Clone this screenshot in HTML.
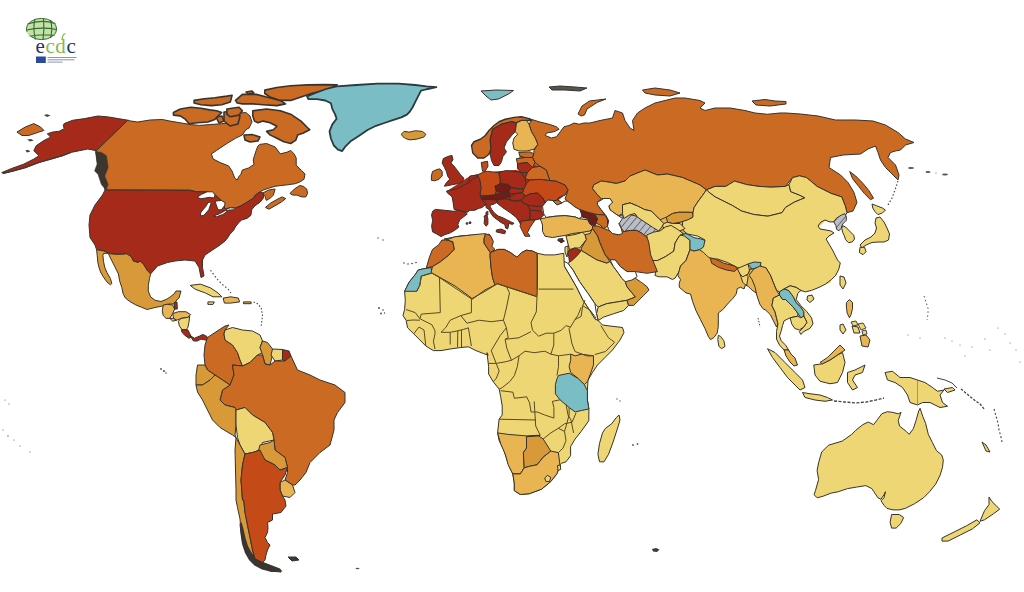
<!DOCTYPE html>
<html><head><meta charset="utf-8">
<style>
html,body{margin:0;padding:0;background:#fff;}
body{width:1024px;height:592px;overflow:hidden;position:relative;font-family:"Liberation Sans",sans-serif;}
svg{position:absolute;left:0;top:0;}
</style></head><body>
<svg width="1024" height="592" viewBox="0 0 1024 592">
<defs>
<pattern id="hatch" width="5.5" height="5.5" patternUnits="userSpaceOnUse" patternTransform="rotate(40)">
<rect width="5.5" height="5.5" fill="#bdbdc6"/><line x1="0" y1="0" x2="0" y2="5.5" stroke="#3f4555" stroke-width="1.3"/>
</pattern>
</defs>
<g stroke="#38322a" stroke-width="1" stroke-linejoin="round">
<!-- Chukotka -->
<polygon fill="#CB6A22" points="16.9,132.1 25.3,127 33.8,123.6 40.5,127 43.9,130.4 38.9,132.1 28.7,135.5 22,135.5"/>
<polygon fill="#444" stroke="none" points="43.9,115 47,114.2 50.7,115.5 47,117"/>
<polygon fill="#444" stroke="none" points="27,139.5 31,138.9 33.8,140.5 30,141.6"/>
<polygon fill="#444" stroke="none" points="25.3,150.5 28,149.8 30.4,151.5 27,152.4"/>
<!-- Alaska -->
<polygon fill="#A52A1A" points="64.2,123.6 72.6,120.3 84.5,118.6 98,116 108.1,116.9 118.2,118.6 128.4,120.3 96.3,150.7 87.8,149 79.4,150.7 70.9,152.4 62.5,155.7 50.7,159.1 38.9,162.5 25.3,167.6 13.5,170.9 3.4,173.5 1.7,172.6 11.8,168.4 23.6,164.2 33.8,159.1 38.9,155.7 33.8,150.7 36.3,145.6 43.9,140.5 50.7,137.2 47.3,133.8 52.4,132.1 59.1,131.3 64.2,128.7 63.3,125.3"/>
<polyline fill="none" stroke="#3a3a3a" stroke-width="1.2" points="3,173.3 13.5,170.9 25.3,167.6 38.9,162.5 50.7,159.1 62.5,155.7 70.9,152.4"/>
<!-- Canada mainland -->
<polygon fill="#CB6A22" points="127.5,120.5 137.5,122 150,120 162.5,119.5 170,121.1 180.3,122.8 190.7,124.6 199.3,125.4 209.7,124.6 221.7,123.7 232.1,122.8 238,118 240,113 245.9,112.5 250,116 252,122 249,128 245.9,129.7 242.4,134.9 235.5,138.3 226.9,143.5 216.6,150.4 211.4,153.9 213.1,159 220,162.5 228.6,165.9 232.1,171.1 234.7,178 237.2,180 239,176.3 240.7,174.6 242.4,170 248.8,167.9 254,164.4 253.2,160 254.5,155.6 256.2,150.4 257.9,146.1 259.7,144.4 266.6,143.5 275.2,147 280.3,153.9 287.2,152.1 290.7,150.4 294.1,153.9 296.2,158 296.2,165.3 301.5,170.5 305,174 304,179.3 299.7,182 295.3,183.7 289.2,184.6 281.3,185.5 275.1,186.3 269,188.1 263.7,189.9 260.3,191.8 256.4,194.2 252.5,198.8 246.25,202.75 240.8,205.9 235.3,208.2 230.6,207.8 225.2,209 221.25,200.4 215,194.9 207.2,191.8 196.25,191.8 190,190.25 105,190 103,180 100,170 97,160 96,151"/>
<polygon fill="#3d3630" stroke="#333" stroke-width="0.6" points="95.4,151.5 101.4,152.4 106.4,155.7 108.1,167.6 104.7,176 108.1,184.5 106,190 101.4,184.5 98,174.3 94.6,170.9 97.1,164.2 96.3,157.4"/>
<!-- Maritimes / Newfoundland -->
<polygon fill="#CB6A22" points="261.9,193.4 269,189.9 275.1,189 273.4,195.1 270.7,197.8 266.3,200.4 264.6,195.1"/>
<polygon fill="#CB6A22" points="265.5,207.4 270.7,203 276.9,199.5 282.1,196.9 285.7,198.6 281.3,202.1 275.1,205.7 269,209.2"/>
<polygon fill="#CB6A22" points="290,193.4 294.4,189 299.7,185.5 303.2,186.3 306.7,189 307.6,193.4 305.8,196.9 301.5,196.9 297.1,195.1 292.7,195.1"/>
<!-- Arctic islands -->
<g stroke-width="1.6" stroke="#37332e">
<polygon fill="#CB6A22" points="224,112 236,111 240,116 238,124 230,126 224,121"/>
<polygon fill="#CB6A22" points="216,117 222,116 224,121 219,123"/>
<polygon fill="#CB6A22" points="173.4,112.5 180.3,109 190.7,107.3 201,108.2 209.7,109.9 216.6,110.8 221.7,112.5 218.3,115.9 214.8,119.4 207.9,122 197.6,122.8 189,123.7 185.5,119.4 180.3,115.9 173.4,115.1"/>
<polygon fill="#CB6A22" points="226.9,109 239,107.3 242.4,110.8 239,115.1 230.3,116.8 226.9,114.2"/>
<polygon fill="#CB6A22" points="194.1,100.4 204.5,98.7 214.8,97.8 226.9,96.1 232.1,95.2 230.3,102.1 221.7,104.7 211.4,105.6 201,104.7 194.1,103"/>
<polygon fill="#CB6A22" points="235.5,100.4 242.4,94.4 256.2,94.4 266.6,97 280.3,100.4 285.5,103.9 276.9,105.6 263.1,104.7 252.8,103.9 242.4,103.9 237.2,103"/>
<polygon fill="#CB6A22" points="252.8,110.8 266.6,109 280.3,110.8 290.7,114.2 301,121.1 307.9,128 309.7,129.7 302.8,133.2 297.6,134.9 295.9,140.1 290.7,143.5 283.8,141.8 276.9,138.3 270,134.9 266.6,131.4 273.4,129.7 276.9,126.3 270,122.8 263.1,121.1 257.9,122.8 254.5,121.1 252.8,115.9"/>
<polygon fill="#CB6A22" points="264.8,90.1 276.9,87.5 290.7,85.8 307.9,84.9 325.2,84.6 337.2,84.9 330.3,88.3 321.7,90.9 311.4,93.5 301,97 290.7,100.4 280.3,100.4 270,97 264.8,93.5"/>
<polygon fill="#CB6A22" points="244,135 252,134.5 260,137 258,141 250,142 245,140"/>
<polygon fill="#CB6A22" points="246,92 252,91 254,93 248,94"/>
</g>
<!-- USA -->
<polygon fill="#A52A1A" points="105,190 190,190.25 196.25,191.8 207.2,191.8 215,194.9 221.25,200.4 225.2,209 230.6,207.8 235.3,208.2 240.8,205.9 246.25,202.75 252.5,198.8 256.4,194.2 260.3,191.8 263.4,193.4 263.4,198 260.3,202 254.8,205.9 251.7,209.8 250.9,215.25 247,218.4 241.6,220 238.4,223 235.3,227 233.75,230 230,234 227.5,238 225,241 220,245 212.5,250 205,255 202.5,260 202.5,267.5 204,276 201,277.5 199,267.5 195,261 185,260 175,261 167.5,262.5 157.5,266 150.6,273.9 147.2,270.4 143.7,264.7 140.3,261.2 138,262.4 133.4,261.2 131.1,256.6 126.5,253.8 121.9,254.3 115,254.3 110.4,253.8 103.5,250.9 96.6,249.7 95,245 90,237.5 89,225 90,215 95,205 102.5,195"/>
<!-- Great Lakes -->
<g fill="#fff">
<polygon points="197,197.3 201.7,194.2 207.2,191.8 212.7,191.8 215,194.9 214.2,198 209.5,197.3 205.6,198 200.9,198.8"/>
<polygon points="209.5,202 211,203.5 208.75,209.8 204,215.25 200.2,216 201,212 205.6,206.7 208,202.75"/>
<polygon points="215,201.2 221.25,200.4 225.2,202.75 224.4,205.9 221.25,209.8 218,209.8 216.6,205.9"/>
<polygon points="213.4,216 219.7,213.7 225.2,210.6 227.5,211.3 222.8,214.5 216.6,216.8"/>
<polygon points="225.2,209 230.6,207.8 235.3,208.2 233.75,209.8 227.5,210.2"/>
</g>
<!-- Hudson bay fix (white) -->
<!-- Greenland -->
<polygon stroke-width="1.8" stroke="#2a3a3e" fill="#7BBDC4" points="307,96.3 314.1,93.5 325.3,89.25 336.6,86.4 356.3,85 377.4,83.6 398.5,83.6 415.3,85 426.6,86.4 436.4,87.1 426.6,89.25 421,90.7 418.1,96.3 415.3,101.9 412.5,107.5 409.7,111.75 406.9,114.6 401.3,117.4 392.8,120.2 384.4,123 376,125.8 367.5,130 359.1,135.7 350.6,141.3 345,146.9 342.2,151.1 338,149.7 333.8,145.5 330.9,138.5 329.5,131.4 332.3,124.4 336.6,118.8 335.2,114.6 332.3,108.9 330.9,103.3 325.3,100.5 316.9,99.1 308.4,99.1"/>
<!-- Iceland -->
<polygon fill="#D89A38" points="401.3,134.25 404,131.4 409.7,132.1 415.3,130.7 422.4,131.4 425.9,134.25 423.8,137.1 416.7,139.2 409.7,139.9 405.5,138.5 402.7,136.4"/>
<!-- Svalbard -->
<polygon fill="#7BBDC4" points="481,91 496,90 513.5,90.5 508.5,94 498.5,99 491,100 486,96"/>
<!-- Mexico -->
<polygon fill="#D89A38" points="96.6,249.7 103.5,250.9 110.4,253.8 115,254.3 121.9,254.3 126.5,253.8 131.1,256.6 133.4,261.2 138,262.4 140.3,261.2 143.7,264.7 147.2,270.4 150.6,273.9 149.5,278.5 148.3,285.4 148.3,291.1 150.6,296.9 155.2,300.3 161,301.5 166.7,299.2 170.2,296.9 174,294 176,291 181,291 179,298 177.5,299 174,304 169,304 162.5,306 155,307.5 147.2,309.5 141.4,307.2 135.7,304.9 129.9,301.5 125.3,298 123,293.4 121.9,287.7 119.6,280.8 118.4,273.9 115,267 111.5,260.1 108.1,253.2 103.5,253.5 102.9,255.5 103.5,261.2 104.6,267 107,272.7 110.4,278.5 111.8,283.5 110.4,284.8 108.1,283.1 105.5,280 102.9,276.2 100.5,272 98.9,267 97.8,262 97.2,255.5"/>
<!-- Cuba -->
<polygon fill="#EFD675" points="190.2,285.4 200.3,284.1 210.5,287.9 218.1,293 221.9,296.8 213,296.8 205.4,293 195.2,289.2"/>
<polygon fill="#E8B552" points="223.1,298.1 230.8,296.8 238.4,298.1 239.6,301.9 230.8,303.1 224.4,303.1"/>
<polygon fill="#EFD675" points="207.9,301.9 214.3,301.9 213,304.4 207.9,304.4"/>
<polygon fill="#E8B552" points="243.5,301.9 251.1,301.9 251.1,303.7 243.5,303.7"/>
<!-- base fills to avoid gaps -->
<polygon fill="#CB6A22" stroke="none" points="518,160 520,154.5 533,154 536,155 536,162 546,168 540,172 520,170"/>
<polygon fill="#A52A1A" stroke="none" points="447,191 470,176 478,174 500,171 516,170 525,172 535,165 545,170 550,180 556,181 565,185 568,190 565,195 556,202 545,203 542,206 543,214 540,219 535,220 530,227 525,236 521,226 516,217 510,212 503,207 496,202 488,205 484,206 478,208 470,210 455,210 452,197"/>
<polygon fill="#E8B552" stroke="none" points="600,183 630,176 660,174 700,185 707,190 700,205 693,215 685,228 690,240 690,250 686,260 680,268 675,279 657,272 650,256 647,240 640,232 620,232 610,225 600,215 597,200"/>
<polygon fill="#EFD675" stroke="none" points="705,196 720,190 760,188 800,182 840,192 846,210 838,221 825,221 819,227 826,238 832,252 836,270 830,283 800,292 770,290 760,270 735,268 705,258 700,250 705,240 690,233 690,215"/>
<polygon fill="#EFD675" stroke="none" points="566.5,236 575,232 588,224 596,219 606,217 609,227 605,232 602,243 606,256 596,260 580,252 568,252 567,244"/>
<!-- Russia west+central -->
<polygon fill="#CB6A22" points="529,118.6 539,121.75 549,124.25 556.5,126.75 559,129.25 554,131.75 546.5,133 545.25,135.5 551.5,138 556.5,136.75 560.25,131.75 564,126.75 569,125.5 574,123 579,124.25 584,123 590,123 600,120.5 612.5,118 615,110.5 622.5,113 625,120.5 630,128 634,130.5 632.5,120.5 637.5,113 645,108 655,103 665,100.5 675,98 685,98 700,100.5 705,103 700,108 705,110.5 715,108 730,108 745,110.5 755,113 767.5,114.25 780,113 786,113 800.5,114 818,116 835.5,120 855.5,120 873,121 885.5,125 898,132.5 905.5,139 914,142.5 905.5,145 900.5,150 895.5,151 890.5,152.5 888,157.5 895.5,165 899,175 898,180 893,175 885.5,167.5 880.5,160 878,152.5 875.5,146 868,149 860.5,154 843,155 830.5,157.5 829,167.5 840.5,175 848,182.5 854,192.5 857,202.5 853,211 847,212.7 845.2,205.7 841.7,196.9 831.1,193.4 817.1,186.4 806.5,177.6 799.5,175.8 792.5,177.6 785.4,186.4 771.4,187.2 759.1,186.4 746.8,184.6 734.5,181.1 725.7,186.4 715.1,186.4 706.4,189.9 700,185 682.5,177.5 667.5,174 657.5,175 645,170 630,176 628.75,177.25 625,181 616.25,183.5 610,182.25 601.25,181 593.75,184.75 592.5,188.5 597.5,194.75 601.25,198.5 597.5,202.25 597.5,204.75 601.25,209.75 605,215 597.5,214.5 587.5,212.25 580,209.75 575,207 570,203 565,199 568,190 565,185 556.25,181.25 550,180.6 548.75,177.5 546.25,170 540,166.25 535,162.5 532.5,157.5 533.75,153.75 534,150.5 537.75,144.25 535.25,138 531.5,131.75 529,124.25 531.5,120.5"/>
<!-- Novaya Zemlya -->
<polygon fill="#CB6A22" points="578,114 582,106 589.5,101 606,99 597,102.5 587,109 584.5,115 581,116"/>
<polygon fill="#CB6A22" stroke="#333" stroke-width="1" points="642.5,90 655,88 670,90 680,93 670,96 655,95 645,93"/>
<polygon fill="#CB6A22" stroke="#333" stroke-width="1" points="752,101 765,99.5 775,101 786,101.5 786,104 770,106 756,105"/>
<g fill="#555" stroke="none"><ellipse cx="911" cy="168" rx="3" ry="0.9"/><ellipse cx="928" cy="172" rx="2.5" ry="0.9"/><ellipse cx="945" cy="174.5" rx="3" ry="0.9"/><circle cx="936" cy="173" r="0.6"/></g>
<polygon fill="#555" points="549,87 560,86 575,87 587,88 580,91 565,90 552,90"/>
<!-- Sakhalin -->
<polygon fill="#CB6A22" points="849.7,171.5 855.7,176 863,183.4 869,190.8 873.5,198.2 870.5,199.7 864.6,193.8 858.6,186.3 852.7,178.9"/>
<!-- Kazakhstan -->
<polygon fill="#E8B552" points="592.5,188.5 593.75,184.75 601.25,181 610,182.25 616.25,183.5 625,181 628.75,177.25 630,176 645,170 657.5,175 667.5,174 682.5,177.5 700,185 706.4,189.9 702.8,195.1 697.6,202.2 694.1,207.5 693,212.5 688,212.25 678.75,212.25 672.5,213.5 666.25,217.25 660,219.75 655,214.75 651.25,211 645,209.75 637.5,206 630,202.9 622.5,204.75 622.5,213.5 618.75,216 615,213.5 610,209.75 608.75,206 612.5,202.25 610,198.5 603.75,198.5 601.25,198.5 597.5,194.75"/>
<!-- Mongolia -->
<polygon fill="#EFD675" points="706.4,189.9 715.1,186.4 725.7,186.4 734.5,181.1 746.8,184.6 759.1,186.4 771.4,187.2 785.4,186.4 789,184.6 790.7,191.6 799.5,195.1 804.8,197.8 794.2,202.2 785.4,207.5 782,212.7 767.9,216.2 753.8,214.5 741.5,211 732.7,205.7 722.2,200.4 715.1,196.9 708.1,191.6"/>
<!-- China -->
<polygon fill="#EFD675" points="706.4,189.9 708.1,191.6 715.1,196.9 722.2,200.4 732.7,205.7 741.5,211 753.8,214.5 767.9,216.2 782,212.7 785.4,207.5 794.2,202.2 804.8,197.8 799.5,195.1 790.7,191.6 789,184.6 792.5,177.6 799.5,175.8 806.5,177.6 817.1,186.4 831.1,193.4 841.7,196.9 845.2,205.7 847,212.7 845,216 838,220 834,221.8 830,222 825,220 821,222 818,226 820,229 826,230 831,231 834,233 829,236 826,239 829,244 832.5,250 837.5,260 840.3,263 838.8,269.1 835.8,275.2 831.2,279.8 825.1,284.3 819,287.4 811.5,290.4 805.4,291.9 800.8,290.4 796.2,287.4 790.2,285.8 784.1,288.9 779.5,291.9 776.5,290.4 773.4,282.8 770.4,275.2 765.8,267.6 755,267.5 747.5,270 737.5,267.5 727.5,262.5 717.5,259 710,259 700,255 695,250 702.5,247.5 705,240 697.5,236 687.5,234 682.5,230 682.5,221 692.5,217.5 693,212.5 694.1,207.5 697.6,202.2 702.8,195.1"/>
<!-- Korea -->
<polygon fill="url(#hatch)" points="833.7,221.8 836.6,218.1 841.1,215.2 844.8,213.7 846.3,216.6 846.3,220.4 842.6,224.1 841.1,228.5 838.9,230.8 836.6,229.3 835.9,225.6"/>
<polygon fill="#EFD675" points="842.6,225.6 845.6,227 849.3,230.8 853.7,235.2 854.5,239 852.3,241.9 848.5,242.7 845.6,239.7 844.1,235.2 842.6,232.3 841.8,228.5"/>
<!-- Japan -->
<polygon fill="#EFD675" points="872,204 876.5,205.7 882.4,208 885.4,210 882.4,213 878,214.6 875,211.6 872.75,208"/>
<polygon fill="#EFD675" points="876,218 880,217 884,222 887,228 889.5,234 888.5,240 884,242 878,242 872,242.5 866,245 862,248 860,245 865,240 871,237 875,233 876.5,228 875,223"/>
<polygon fill="#EFD675" points="860,247.3 864.6,247.3 866,251.7 863,254.7 859.4,252.5"/>
<polyline fill="none" stroke="#444" stroke-width="1.2" stroke-dasharray="1.5,2" points="898,181 895,190 892,198 888,205"/>
<polygon fill="#EFD675" points="840,276 844,277 846,283 843,289 840,285"/>
<polygon fill="#EFD675" points="807.5,296 812,295 814,299 810,302.5 807,300"/>
<!-- Scandinavia -->
<polygon fill="#CB6A22" stroke-width="1.4" points="471.5,145.5 474,141.75 480.25,139.25 485.25,135.5 489,130.5 494,125.5 499,121.75 505.25,119.25 514,117.4 521.5,116.75 529,118.6 531.5,120.5 527.75,120.5 521.5,120.5 516.5,123 511.5,121.75 501.5,124.25 492.75,129.25 490.25,139.25 490.9,149.25 489,154.25 484,158 477.75,158 472.75,153"/>
<polygon fill="#A52A1A" points="490.25,139.25 492.75,129.25 501.5,124.25 511.5,121.75 516.5,123 515.25,131.75 512.75,134.25 506.5,141.75 504,148 506.5,151.75 502.75,156.75 501.5,161.75 499,165.5 494,165.5 491.5,160.5 490.25,154.25 490.9,149.25"/>
<polygon fill="#E8B552" points="516.5,123 521.5,120.5 526.5,120.5 529,124.25 531.5,131.75 535.25,138 537.75,144.25 534,149.25 526.5,151 519,151 514,149.25 512.75,143 514,138 517.75,134.25 515.25,131.75"/>
<!-- Baltic/ Eastern Europe -->
<polygon fill="#CB6A22" points="518.75,152.5 530,151.9 533.75,153.75 532.5,157.5 525,157.5 520,156.25"/>
<polygon fill="#CB6A22" points="516.25,158.75 525,157.5 532.5,157.5 535,162.5 532.5,167.5 527.5,162.5 517.5,163.75"/>
<polygon fill="#A52A1A" points="517.5,163.75 527.5,162.5 532.5,167.5 527.5,172.5 521.25,172.5 517.5,168.75"/>
<polygon fill="#CB6A22" points="525,178.75 527.5,172.5 532.5,167.5 540,166.25 546.25,170 548.75,177.5 550,180.6 540,179.4 530,180"/>
<polygon fill="#C44A17" points="526.25,183.75 530,180 540,179.4 550,180.6 556.25,181.25 565,185 568,190 565,195 558.75,197.5 555,202.5 550,200 545,202.5 542.5,197.5 537.5,193.1 530,193.75 525,196.25 522.5,192.5 523.75,188.75"/>
<polygon fill="#CB6A22" points="553,201 558,200 562,203 557,205"/>
<polygon fill="#A52A1A" points="498.75,172.5 506.25,170.6 513.75,171.25 521.25,172.5 525,178.75 526.25,183.75 523.75,188.75 517.5,188.75 511.25,187.5 507.5,184.4 500,183.75 500,178.75"/>
<polygon fill="#C44A17" points="477.5,175 482.5,172.5 487.5,171.25 492.5,171.9 498.75,172.5 500,178.75 500,183.75 495,186.25 496.25,191.25 495,195 487.5,195.6 481.25,195.6 478.75,191.25 478.75,182.5"/>
<polygon fill="#C44A17" points="481.25,162.5 487.5,161.25 488,166.25 485,171.25 482.5,171.25"/>
<polygon fill="#A52A1A" points="470,176 477.5,175 478.75,182.5 478.75,186 472,184 468.75,180"/>
<polygon fill="#751A14" points="495,186.25 500,183.75 507.5,184.4 511.25,187.5 508.75,191.25 502.5,192.5 496.25,191.25"/>
<polygon fill="#751A14" points="487.5,195.6 495,195 502.5,192.5 508.75,192.5 510,196.25 505,198.75 497.5,200 490,199.4"/>
<polygon fill="#751A14" points="478.75,197.5 487.5,196.25 488.75,200 482.5,201.25 478.75,200"/>
<polygon fill="#A52A1A" points="508.75,191.25 511.25,187.5 517.5,188.75 523.75,188.75 522.5,192.5 515,193.75 510,193.75"/>
<polygon fill="#A52A1A" points="510,196.25 515,193.75 522.5,192.5 525,196.25 521.25,200 515,201.25 510,200"/>
<polygon fill="#A52A1A" points="525,196.25 530,193.75 537.5,193.1 542.5,197.5 545,202.5 542.5,206.25 535,206.25 527.5,205 522.5,202.5 521.25,200"/>
<polygon fill="#fff" points="542.5,206.25 547.5,200 553,200.5 555,201.25 560,203.75 565,201 567.5,201.25 570,203 575,207 580,209.75 582.5,213.75 581.25,217.5 578.75,218.5 575,216.9 565,215.6 555,216.25 546.25,217.5 543.75,213.75"/>
<polygon fill="#CB6A22" points="553,201 558,200 562,203 557,205"/>
<!-- Balkans -->
<polygon fill="#A52A1A" points="497.5,200 505,198.75 510,200 515,201.25 521.25,200 522.5,202.5 527.5,205 530,210 530,220 521.25,221.25 520,222.5 516.25,217.5 510,212.5 502.5,207.5 496.25,202.5"/>
<polygon fill="#A52A1A" points="530,210 541.25,211.25 543.75,215 540,218.75 535,220 530,220"/>
<polygon fill="#C44A17" points="521.25,221.25 530,220 535,220 532.5,223.75 530,227.5 527.5,232.5 530,236.25 525,236.25 522.5,231.25 520,226.25"/>
<!-- UK/Ireland -->
<polygon fill="#A52A1A" points="443.3,158.6 447.6,156.5 452,155.4 453,159.7 450.9,163 454.1,166.2 457.4,170.5 460.6,174.9 463.8,178.1 462.8,181.4 458.4,183.5 453,184.6 447.6,185.7 444.4,186.2 446.5,182.4 449.8,179.2 447.6,176 446.5,171.6 444.4,167.3 442.2,163"/>
<polygon fill="#CB6A22" points="432.5,171.6 436.8,169.5 440,168.9 442.2,171.6 442.2,176 439,179.2 434.6,180.8 431.4,180.3 431.4,176"/>
<!-- France, Iberia, Italy -->
<polygon fill="#A52A1A" points="446.5,191.1 450.9,190 456.3,188.9 460.6,186.8 464.9,184.6 469.2,182.4 472.5,179.2 477.9,176 480,180.3 481.1,187.8 480,195.4 482,200 484,202 486,203.75 484.1,205.6 482.25,207.5 478.5,208.4 474.75,210.3 470,210.3 467.25,212.2 465.4,212.2 458.8,210.3 454.1,209.4 453,201.9 452,196.5 447.6,193.2"/>
<polygon fill="#A52A1A" points="432.6,211.25 435.4,209.4 444.75,210.3 454.1,211.25 458.8,210.3 465.4,212.2 467.25,214 463.5,216.9 459.75,219.7 457.9,224.4 458.8,227.2 455.1,230 450.4,232.8 444.75,234.7 441,236.6 436.3,233.75 432.6,231.9 431.6,226.25 432.6,220.6 431.6,215"/>
<polygon fill="#A52A1A" points="482,200 488,199.5 496,200 497.5,202 494,204 491,205 489.75,205.6 491.6,209.4 494.4,213.1 498.2,216 502.9,217.8 506.6,219.7 510.4,221.6 514.1,223.4 512.25,224.4 508.5,223.4 508.5,226.25 507.6,229 505.7,228.1 504.75,224.4 501,222.5 497.25,219.7 493.5,216.9 490.7,213.1 488.8,209.4 486,207.5 486,203.75 484,202"/>
<polygon fill="#A52A1A" points="496.3,230 501,229 505.7,231 504.75,233.75 500,232.8 496.3,231.9"/>
<polygon fill="#A52A1A" points="484.1,216 486.9,215 487.9,218.75 487.9,224.4 486,226.25 484.1,223.4 484.6,218.75"/>
<polygon fill="#A52A1A" points="486,212.2 487.9,211.25 487.9,215 486,215"/>
<g fill="#444"><circle cx="467" cy="223.5" r="0.9"/><circle cx="470" cy="222.7" r="1"/></g>
<!-- Turkey, Caucasus -->
<polygon fill="#E8B552" points="540,218.75 545,218 546.25,217.5 555,216.25 565,215.6 575,216.9 578.75,218.5 587.5,219.75 590,224 592.5,226 592.5,228.5 590,231 582.5,232.25 572.5,233.5 565,235.5 560,236.25 552.5,237.5 545,236.25 542.5,231.25 542.5,225 541.25,221.25"/>
<polygon fill="#751A14" points="580,209.75 587.5,212.25 595,214.75 597.5,218.5 592.5,219.75 587.5,218.5 582.5,217.25"/>
<polygon fill="#CB6A22" points="597.5,218.5 595,214.75 597.5,214.5 605,215 607.5,220 607.5,226 603.75,228.5 600,225 596,223"/>
<polygon fill="#751A14" points="587.5,218.5 592.5,219.75 597.5,218.5 596,223 595,226 590,224"/>
<polygon fill="#8a8a8a" points="558,239 563,238.5 562,241 558,241"/>
<!-- Central Asia -->
<polygon fill="url(#hatch)" points="616.3,215.6 623,215 629.2,214.3 636.8,216.3 643.9,220.1 651.6,224.6 659.3,230.4 656.7,236.1 652.9,239.3 646.5,236.8 641.3,232.9 636.8,230.4 630.4,230.4 624,231.6 621.5,228.4 619.5,224 617.6,220.1"/>
<polygon fill="#EFD675" points="622.5,204.75 630,202.9 637.5,206 645,209.75 651.25,211 655,214.75 660,219.75 663.75,223.5 662.5,226 658.75,231 652.5,227.25 645,222.25 637.5,217.25 635,213.5 630,214.75 623.75,218.5 622.5,213.5"/>
<polygon fill="#D89A38" points="666.25,217.25 672.5,213.5 678.75,212.25 688,212.25 692.5,212.5 693,217 688,219.75 680,222.25 672.5,223.5 667.5,222.25"/>
<polygon fill="#EFD675" points="663.75,223.5 667.5,222.25 672.5,223.5 680,223.5 685,228.5 680,231 672.5,231 666.25,232.25 662.5,226"/>
<polygon fill="#EFD675" points="646.8,234.9 653.5,232.2 660.3,230.8 665.7,226.8 671.1,225.4 677.8,229.5 683.2,233.5 679.2,236.2 675.1,243 673.8,251.1 665.7,256.5 657.6,260.5 652.2,260.5 648.1,249.7"/>
<polygon fill="#EFD675" points="652.2,260.5 657.6,260.5 665.7,256.5 673.8,251.1 675.1,243 679.2,236.2 683.2,233.5 686,236.2 690,240.3 690,249.7 686,260.5 680.5,266 679.2,271.4 675.1,278.1 672.4,279.5 667,276.8 658.9,276.8 654.9,275.4 656.2,270 650.8,260.5"/>
<polygon fill="#7BBDC4" points="680.5,234.9 686,233.5 694,237.6 700.8,238.9 704.9,240.3 703.5,247 699.5,249.7 694,251.1 690,249.7 690,240.3 684.6,236.2"/>
<!-- Iran -->
<polygon fill="#CB6A22" points="592.5,228.5 592.5,226 597.5,226 603.75,228.5 610,231 617.5,234.75 621.5,232 624,231.6 630.4,230.4 636.8,230.4 641.3,232.9 646.5,236.8 648,240 648.9,242.9 650.6,254.7 654,263.2 657.4,271.6 647.2,273.3 635.4,271.6 627,271.6 620.2,266.5 615.1,259.8 610,259.8 605,254.7 599.9,242.9 597.5,236"/>
<!-- Caspian -->
<polygon fill="#fff" points="597.5,202.25 603.75,198.5 610,198.5 612.5,202.25 608.75,206 610,209.75 615,213.5 618.75,216 622.5,218.5 620,222.25 618.75,223.5 621.25,228.5 622.5,233.5 618.75,234.75 612.5,233.5 608.75,229.75 607.5,226 608.75,221 606.25,216 601.25,209.75 597.5,204.75"/>
<!-- Syria, Iraq, Jordan, Levant -->
<polygon fill="#EFD675" points="566,236 575,234.5 582.5,232.25 585,234.75 586.4,239.5 579.6,248 574.6,248 569.5,249.6 567.8,243"/>
<polygon fill="#D89A38" points="581.3,248 586.4,239.5 585,234.75 590,233.5 592.5,228.5 597.5,236 599.9,242.9 605,254.7 610,261.5 606.7,263.2 596.5,259.8 581.3,250.5"/>
<polygon fill="#A52A1A" points="567.8,251.3 574.6,248 581.3,250.5 578,254.7 572.9,259.8 569.5,262.3 568.7,256.4"/>
<polygon fill="#EFD675" points="565,247 568,246 568,251 567,257 565,252"/>
<polygon fill="#751A14" points="558.5,240 562,239.5 564.4,241 561,243"/>
<!-- Arabia -->
<polygon fill="#EFD675" points="569.5,262.3 572.9,259.8 578,254.7 581.3,250.5 596.5,259.8 606.7,263.2 610,261.5 613.4,266.5 618.5,273.3 621.9,278.4 625.3,281.7 627,286.8 635.4,297 627,300.3 616.8,302 606.7,303.7 598.2,307 594.9,303.7 588.1,293.6 579.6,281.7 572.9,269.9 567.8,263.2"/>
<polygon fill="#EFD675" points="598.2,307 606.7,303.7 616.8,302 627,300.3 628.6,305.4 623.6,310.5 613.4,313.8 603.3,317.2 598.2,320.6 596.5,313.8"/>
<polygon fill="#D89A38" points="625.3,281.7 630,279 635.4,278.4 640.5,281.7 647.2,286.8 648.9,290.2 643.8,295.3 638.8,300.3 633.7,305.4 628.6,305.4 627,300.3 635.4,297 627,286.8"/>
<!-- Red sea, Persian gulf -->
<polygon fill="#fff" points="561,259.8 567.8,263.2 572.9,269.9 579.6,281.7 588.1,293.6 594.9,303.7 596.5,313.8 598.2,320.6 594.9,318.9 589.8,310.5 583,300.3 576.3,286.8 569.5,275 564.4,266.5"/>
<polygon fill="#fff" points="610,259.8 615.1,259.8 620.2,266.5 627,271.6 635.4,271.6 637.1,276.7 632,280 625.3,281.7 621.9,278.4 618.5,273.3 613.4,266.5"/>
<polyline fill="none" stroke="#444" stroke-width="1" stroke-dasharray="1.5,1.5" points="758,318 759,322 760,327"/>
<!-- India region -->
<polygon fill="#E8B552" points="690,249.7 694,251.1 699.5,249.7 703.5,252.4 707.6,256.5 711.6,259.2 715.7,263.2 723.8,267.3 734.6,270 738.6,268.6 740,274 742.7,276.8 748.1,274 749.5,270 754.9,267.3 761.6,266 764.3,271.4 761.6,276.8 758.9,287.6 756.2,293 752.2,290.3 748.1,286.2 745.4,284.9 744.1,288.9 740.6,287.3 737.3,288.5 736.2,294 732.8,298.5 728.4,303 722.8,309.6 718.3,313 718.3,326.3 717.2,333 713.9,337.5 710.5,339.7 708.3,336.4 705,328.6 700.5,319.7 696,310.7 692.7,301.8 690.5,294 686,292.9 679.3,287.3 679.2,283.5 680.5,279.5 677.8,275.4 680.5,266 686,260.5"/>
<polygon fill="#CB6A22" points="710.3,257.8 715.7,259.2 723.8,263.2 734.6,266 737.3,268.6 734.6,271.4 726.5,270 718.4,267.3 711.6,263.2"/>
<polygon fill="#EFD675" points="740,274 745.4,274 748.1,276.8 746.8,284.9 745.4,284.9 742.7,282.2 741.4,278.1"/>
<polygon fill="#7BBDC4" points="748,264 754,262 761,262.5 760,267 752,269"/>
<polygon fill="#EFD675" points="737.3,268.6 748,264 749.5,270 748.1,274 742.7,276.8 740,274"/>
<polygon fill="#EFD675" points="718.3,335.3 720.6,336.4 723.9,340.8 725,346.4 721.7,348.6 718.9,346.4 717.8,339.7"/>
<!-- SE Asia -->
<polygon fill="#E8B552" points="753.7,269.1 759.8,266.1 765.8,267.6 770.4,275.2 773.4,282.8 776.5,290.4 779.5,295 773.4,298 771.9,305.6 775,311.7 776.5,317.8 778,323.9 776.5,326.9 773.4,320.8 770.4,314.7 765.8,310.2 762.8,308.6 759.8,304.1 756.7,295 755.2,287.4 752.2,279.8 749.1,275.2"/>
<polygon fill="#EFD675" points="773.4,298 779.5,295 782.6,299.5 785.6,299.5 788.6,302.6 793.2,307.1 797.8,313.2 797.8,316.2 790.2,317.8 787.1,319.3 784.1,320.8 782.6,325.4 781,331.5 779.5,336 781,340.6 785.6,345.1 788.6,350 784.1,350 779.5,345.1 776.5,339 776.5,331.5 778,323.9 776.5,317.8 775,311.7 771.9,305.6"/>
<polygon fill="#7BBDC4" points="779.5,291.9 784.1,288.9 788.6,290.4 793.2,296.5 796.2,302.6 800.8,307.1 803.9,311.7 803.9,316.2 800.8,317.8 797.8,313.2 793.2,307.1 788.6,302.6 785.6,299.5 782.6,299.5 779.5,295"/>
<polygon fill="#EFD675" points="784.1,288.9 790.2,285.8 796.2,287.4 800.8,290.4 797.8,293.4 796.2,299.5 800.8,305.6 806.9,311.7 811.5,317.8 813,323.9 809.9,328.4 803.9,331.5 800.8,334.5 799.3,331.5 803.9,326.9 806.9,322.3 803.9,316.2 803.9,311.7 800.8,307.1 796.2,302.6 793.2,296.5 788.6,290.4"/>
<polygon fill="#EFD675" points="790.2,317.8 797.8,316.2 800.8,317.8 803.9,316.2 806.9,322.3 803.9,326.9 799.3,330 794.7,328.4 791.7,323.9"/>
<polygon fill="#E8B552" points="784.1,350 788.6,350 791,354 795,358 797.5,365 794,366 790,362 786,356"/>
<polygon fill="#EFD675" points="767.5,348.75 775,352.5 785,362.5 795,372.5 802.5,380 805,387.5 800,390 795,385 787.5,377.5 780,367.5 772.5,357.5"/>
<polygon fill="#EFD675" points="813.75,365 822.5,363.75 830,360 837.5,355 842.5,352.5 845,362.5 842.5,372.5 837.5,382.5 830,383.75 820,381.25 815,375"/>
<polygon fill="#E8B552" points="820,362.5 827.5,357.5 835,350 840,345 845,350 837.5,355 830,360 822.5,363.75"/>
<polygon fill="#E8B552" points="846.4,302.6 849.5,299.5 852.5,302.6 852.5,308.6 851,314.7 849.5,317.8 847.2,313.2 846.4,307.1"/>
<polygon fill="#E8B552" points="860,336 866,335 870,340 868,347 862,346"/>
<polygon fill="#EFD675" points="852,326 858,327 860,333 854,333"/>
<g fill="#EFD675" stroke="#333" stroke-width="0.9"><polygon points="851,322 856,321 858,325 853,326"/><polygon points="858,324 863,323 866,328 861,330"/><polygon points="862,331 866,330 867,334 863,335"/></g>
<polygon fill="#EFD675" points="840,325 843,324 846,330 843,334 840,330"/>
<polygon fill="#EFD675" points="847.5,372.5 855,370 865,365 862.5,372.5 855,375 852.5,380 857.5,387.5 852.5,390 847.5,382.5"/>
<polygon fill="#EFD675" points="802.5,392.5 810,393.75 820,395 827.5,397.5 832.5,400 825,401.25 815,400 805,397.5"/>
<polyline fill="none" stroke="#444" stroke-width="1.3" stroke-dasharray="3,1.5" points="834,401 845,402 856,403 866,402 876,400 884,398"/>
<!-- New Guinea -->
<polygon fill="#EFD675" points="885,372.5 892.5,371.25 900,377.5 910,377.5 917.5,380 925,382.5 932.5,387.5 937.5,391.25 944,390 940,395 942.5,402.5 947.5,406.25 940,407.5 930,402.5 922.5,402.5 917.5,405 910,402.5 907.5,395 902.5,387.5 895,382.5 887.5,380"/>
<line x1="917.5" y1="380" x2="917.5" y2="404" stroke="#555" stroke-width="0.5"/>
<polygon fill="#EFD675" points="944,389 952.5,387.5 955,390 947.5,392.5"/>
<polyline fill="none" stroke="#444" stroke-width="1.3" stroke-dasharray="2.5,1.5" points="961,389 967,394 973,399 980,404 985,410"/>
<polyline fill="none" stroke="#555" stroke-width="1" stroke-dasharray="1.5,2.5" points="924,296 926,302 928,308 928,314 927,320"/>
<polyline fill="none" stroke="#444" stroke-width="1.1" stroke-dasharray="2,2" points="994,409 996,416 998,423 999,430 1001,437 1002,442"/>
<polyline fill="none" stroke="#444" stroke-width="1" points="937,378 945,380 952,383 957,388"/>
<g fill="#666" stroke="none"><circle cx="908" cy="335" r="0.6"/><circle cx="920" cy="338" r="0.6"/><circle cx="945" cy="338" r="0.6"/><circle cx="952" cy="341" r="0.6"/><circle cx="960" cy="345" r="0.6"/><circle cx="972" cy="347" r="0.6"/><circle cx="985" cy="339" r="0.6"/><circle cx="998" cy="328" r="0.6"/><circle cx="1005" cy="334" r="0.6"/><circle cx="1010" cy="343" r="0.6"/><circle cx="1016" cy="350" r="0.6"/><circle cx="1020" cy="362" r="0.6"/><circle cx="990" cy="350" r="0.6"/><circle cx="965" cy="356" r="0.6"/></g>
<!-- Australia -->
<polygon fill="#EFD675" points="814.1,494.7 815.6,490.2 818.6,479.5 817.1,470.4 818.6,462.8 821.7,452 828.5,445.2 842.2,441.1 851.8,434.3 855.9,430.2 862.7,424.7 868.2,422 873.6,424.7 877.7,419.2 881.8,413.8 887.3,411.7 892.8,412.4 898.2,413.8 901,412.4 898.2,420.6 899.6,426.1 906.4,431.5 909.2,434.3 913.3,428.8 916,420.6 918.7,411 920.1,408.3 922.8,416.5 925.6,423.3 928.3,434.3 932.4,442.5 936.5,450.7 941.7,455 943.3,459.8 942.5,467.4 940.2,475 935.7,484.1 929.6,491.7 923.5,497.8 914.4,503.8 905.3,508.4 899.2,509.9 893.1,509.9 887,508.4 884,505.3 881,500.8 884,497.8 885.5,491.7 884,494.7 881,499.3 877.9,497.8 874.9,493.2 871.8,488.6 865.8,485.6 856.6,487.1 847.5,488.6 838.4,491.7 830.8,493.2 823.2,496.2 817.1,497.8"/>
<polygon fill="#EFD675" points="891.6,514.5 899.2,514.5 903.7,517.5 900.7,523.6 896.1,528.1 891.6,528.1 890.1,522.1"/>
<polygon fill="#EFD675" points="989,497 992,501.6 999.7,509.2 993.6,513.7 984.5,519.8 980,521.3 984.5,510.7 989,504.6"/>
<polygon fill="#EFD675" points="942,538 954.1,532 966.3,525.9 976.9,519.8 980,522.9 972.4,528.9 960.2,535 948,541.1 942,541.1"/>
<polygon fill="#EFD675" points="982,442 986,445 990,452 986,451"/>
<!-- Africa base -->
<polygon fill="#EFD675" points="404.6,291.3 409.1,282.2 415.2,274.6 418.2,270 422.5,269 431,267.5 435,260 442.5,255 452.5,251 454,247.5 452.5,240 444,239 460,236 475,235 483.75,236 489,234 492.5,240 491,247.5 490.3,252.6 498.1,249.4 504.4,249.4 510.6,252.6 516.9,257.25 521.6,252.6 526.25,250.2 532.5,251 537.2,253.3 545,254.9 554.4,254.9 563.75,253.3 564.4,266.5 569.5,275 576.3,286.8 583,300.3 589.8,310.5 594.9,318.9 598.2,320.6 602.5,325 610,326 622.5,327.5 624,332.5 620,340 612.5,350 605,357.5 597.5,365 592.5,372.5 588,380 587.4,390.7 587.4,399.8 588.9,409 588.8,420.7 581.2,431.4 575.1,439 570.6,446.6 570.6,455.7 566,461.8 561.5,463.3 559.9,464.8 556.9,473.9 550.8,481.5 541.7,489.1 529.5,493.7 520.4,494.5 514.3,490.7 514.3,483 512.8,473.9 509.8,467.8 506.7,458.7 503.7,449.6 499.1,440.5 497.6,432.9 499.1,419.2 502.2,415 502.2,405.9 500.7,396.8 499.2,389.2 493.1,381.6 488.6,374 488.6,366.4 487,352.7 488.2,355.1 483.6,353.6 476,350.6 468.4,346.8 460.8,347.5 450.2,349 441,350.6 433.4,350.6 425.8,346 419.8,339.9 413.7,333.8 407.6,327.8 406.1,320.2 403,315.6 404.6,309.5 405.3,300.4"/>
<!-- Morocco, W.Sahara -->
<polygon fill="#CB6A22" points="426.25,268.2 429.4,257.25 432.5,249.4 438.75,244.75 441.9,240 446.6,240 452.8,241.6 454.4,249.4 448.1,255.7 440.3,261.9 432.5,266.6"/>
<polygon fill="#7BBDC4" points="431,267.5 431.9,273 421.3,276.1 419.8,285.2 416.7,291.3 404.6,291.3 409.1,282.2 415.2,274.6 418.2,270 422.5,269"/>
<!-- Algeria -->
<polygon fill="#E8B552" points="446.6,240 454.4,236.9 466.9,235.4 482.5,233.8 485.6,233.8 484.1,238.5 484.1,243.2 487.2,247.9 490.3,252.6 490,255 491,267.5 492.5,277.5 495,285 485,290 472.5,299 467.5,295 455,286 440,277.5 431,272.5 432.5,266.6 440.3,261.9 448.1,255.7 454.4,249.4 452.8,241.6"/>
<polygon fill="#CB6A22" points="485.6,233.8 490.3,235.4 493.4,241.6 491.9,246.3 495,249.4 490.3,252.6 487.2,247.9 484.1,243.2 484.1,238.5"/>
<!-- Libya -->
<polygon fill="#CB6A22" points="490.3,252.6 498.1,249.4 504.4,249.4 510.6,252.6 516.9,257.25 521.6,252.6 526.25,250.2 532.5,251 537.2,253.3 537.5,262.5 537.5,282.5 537,296.7 506.4,286.7 497.3,283.7 495,285 492.5,277.5 491,267.5 490,255"/>
<!-- Kenya, Tanzania -->
<polygon fill="#E8B552" points="570.7,354.2 575.2,355.8 581.3,354.2 593.5,355.8 593.5,364.9 590.4,374 587.4,381.6 584.3,384.6 578.3,378.6 570.7,372.5 569.1,366.4 570.7,360.3"/>
<polygon fill="#7BBDC4" points="558.5,375.5 569.1,373.2 578.3,378.6 584.3,384.6 587.4,390.7 587.4,399.8 588.9,409 581.3,410.5 575.2,412 569.1,407.5 560,399.8 555.4,393.8 555.4,384.6 557,378.6"/>
<!-- Southern Africa -->
<polygon fill="#E8B552" points="497.6,432.9 508.2,434.4 526.5,435.9 540.2,435.2 538.6,435.9 526.5,436.7 526.5,448.1 523.4,452.6 524.2,467.8 520.4,473.9 512.8,473.9 508.2,464.8 505.2,454.2 500.6,443.5"/>
<polygon fill="#D89A38" points="526.5,436.7 538.6,435.9 543.2,439 550.8,451.1 543.2,457.2 537.1,464.8 529.5,466.3 524.2,467.8 523.4,452.6 526.5,448.1"/>
<polygon fill="#E8B552" points="512.8,473.9 520.4,473.9 524.2,467.8 529.5,466.3 537.1,464.8 543.2,457.2 550.8,451.1 558.4,452.6 559.9,464.8 556.9,473.9 550.8,481.5 541.7,489.1 529.5,493.7 520.4,494.5 514.3,490.7 514.3,483"/>
<polygon fill="#EFD675" points="544.7,478 547.5,475.4 550.8,477.5 549.5,481.5 546,481.5"/>
<polygon fill="#EFD675" points="557.5,465.5 560.3,465 560.7,469.5 558,470.5"/>
<!-- Madagascar -->
<polygon fill="#EFD675" points="597.9,454.2 599.5,443.5 602.5,432.9 605.5,428.3 611.6,423.8 616.2,417.7 619,415 620,420 618,426.8 613.1,442 608.6,454.2 604,461.8 599.5,461.8"/>
<polygon fill="#3a3a3a" stroke="none" points="652,549 656,548 659.5,549.5 657,552 653,551.5"/>
<g fill="#555" stroke="none"><circle cx="633" cy="445" r="0.9"/><circle cx="637.5" cy="444" r="0.9"/><circle cx="617" cy="399" r="0.7"/><circle cx="620" cy="401" r="0.7"/></g>
<!-- Africa internal borders -->
<g fill="none" stroke="#564a24" stroke-width="1">
<polyline points="416.7,291.3 419.8,285.2 421.3,276.1 431.9,273 439.5,277.6 440.3,312.6 421.3,314.1 419.8,318.6"/>
<polyline points="439.5,277.6 471.4,298.9 485.1,291.3 497.3,283.7 506.4,286.7 537,296.7"/>
<polyline points="471.4,298.9 471.4,312.6 460.8,315.6 450.2,320.2 445.6,327.8 441,332.3"/>
<polyline points="460.8,315.6 466.9,323.2 473,321.7 479,320.2 491.2,321.7 503.4,320.2"/>
<polyline points="506.4,286.7 509.5,292.8 506.4,308 503.4,320.2 506.4,327.8 500.3,335.4 495.8,343 491.2,350.6"/>
<polyline points="468.4,327.8 469.9,336.9 471.4,346"/>
<polyline points="441,332.3 450.2,332.3 457.8,330.8 463.8,329.3 468.4,327.8"/>
<polyline points="450.2,332.3 450.2,344.5"/>
<polyline points="457.8,330.8 457.5,347"/>
<polyline points="461.5,330 461.5,347"/>
<polyline points="419.8,318.6 422.8,320.2 431.9,324.7 435,330.8 435,333.8 433.4,341.4 435,349"/>
<polyline points="406.1,309.5 415.2,312.6 419.8,318.6"/>
<polyline points="407,320.5 413,320 419.8,320.2"/>
<polyline points="413.7,333.8 419,327 424,330 425.8,346"/>
<polyline points="538.6,289.1 573.5,289.1"/>
<polyline points="537,254 537,289.1"/>
<polyline points="537,296.7 536.3,311.9 531,322.6 532.5,330.2 538.6,336.2"/>
<polyline points="506.4,327.8 508.2,337.8 505.1,339.3 518.8,337.8 531,331.7"/>
<polyline points="538.6,336.2 546.2,333.2 553.8,333.2 561.4,330.2 565.9,325.6 570.5,327.1 575,319.5 578.1,315 581.1,307.4"/>
<polyline points="575,319.5 581.1,316.5 582.7,305.8 585,300"/>
<polyline points="582.7,305.8 590,310 596,318"/>
<polyline points="600.9,325.6 608.5,337.8 614.6,342.3 605.5,351.5 594.8,354.5"/>
<polyline points="593.5,355.8 587.2,356 575,351.5 572,343.8 569,328.6 570.5,327.1"/>
<polyline points="491.2,350.6 496.2,363.4"/>
<polyline points="488.6,363.4 496.2,363.4 505.3,361.8 511.4,360.3 519,355.8"/>
<polyline points="505.1,339.3 506.8,348.2 511.4,360.3"/>
<polyline points="519,355.8 525,351.2 534.2,352.7 544.8,351.2 550.9,354.2 558.5,355.8 570.7,354.2"/>
<polyline points="553.8,333.2 553.8,345 550.9,354.2"/>
<polyline points="519,355.8 517.4,366.4 514.4,375.5 509.8,381.6 502.2,387.7 499.2,389.2"/>
<polyline points="496.2,363.4 499.2,371 496.2,378.6 493.1,381.6"/>
<polyline points="500.7,390.7 512.9,392.2 514.4,398.3 526.6,396.8 529.6,402.9 531.1,412 537.2,412 544.8,415 553.9,418.1 553.9,407.5 552.4,401.4 560,399.8"/>
<polyline points="558.5,355.8 558.5,366.4 557,375.5"/>
<polyline points="569.1,407.5 569.1,415 566.1,426 564.5,431.4"/>
<polyline points="534.2,401.4 535.7,426 540.2,435.2"/>
<polyline points="499.1,419.2 536,420"/>
<polyline points="543.2,439 550.8,432.9 558.4,428.3 564.5,431.4 566,440.5 563,448.1 558.4,452.6"/>
<polyline points="558.4,428.3 564.5,423.8 572.1,422.2 576,413"/>
<polyline points="566,404 568,415 571,420 573.6,432.9"/>
</g>
<!-- Central America -->
<polygon fill="#A52A1A" points="174.3,302.3 177,302 177.3,309 174.6,309.2"/>
<polygon fill="#E8B552" points="163.2,305.1 167,304.2 172.7,305.1 174.6,309 172.7,313.6 169.8,318.4 166.1,318.4 163.2,315.5 162.3,310.8"/>
<polygon fill="#E8B552" points="172.7,313.6 178.4,311.7 185.9,311.7 190.6,314.6 187.8,317.4 181.2,318.4 176.5,320.2 173.6,318.4"/>
<polygon fill="#E8B552" points="169.8,318.4 173.6,318.4 176.5,320.2 172.7,321.2"/>
<polygon fill="#EFD675" points="178.4,321.2 181.2,318.4 187.8,317.4 189.7,316.5 188.8,323.1 187.8,327.8 185.9,329.7 182.1,329.7 179.3,325.9"/>
<polygon fill="#A52A1A" points="181.2,329.7 187.8,329.7 189.7,333.5 191.6,337.3 188.8,338.2 185,335.4 182.1,332.5"/>
<polygon fill="#A52A1A" points="189.7,335.4 194.4,338.2 199.1,336.3 202.9,334.4 206.7,336.3 208.6,339.1 205.8,340.1 201,339.1 197.3,341 193.5,341 191.6,338.2"/>
<!-- South America -->
<polygon fill="#CB6A22" points="207.5,337.5 215,332.5 225,326 229,325 225,330 224,334 225,340 232.5,345 237.5,352.5 240,360 242.5,366 232.5,365 234,375 230,385 222.5,380 215,375 207.5,370 205,365 204,355 205,345"/>
<polygon fill="#EFD675" points="225,330 232.5,327.5 242.5,330 252.5,331 260,335 262.5,341 260,347.5 262.5,352.5 257.5,355 250,362.5 242.5,366 240,360 237.5,352.5 232.5,345 225,340 224,334"/>
<polygon fill="#D89A38" points="262.5,341 267.5,342.5 272.5,349 272.5,355 270,365 265,364 262.5,355 260,347.5"/>
<polygon fill="#EFD675" points="272.5,349 282.5,349.5 282.5,360 275,361 271,355"/>
<polygon fill="#A52A1A" points="282.5,349.5 289,351 291,356 285,361 282.5,360"/>
<!-- Brazil -->
<polygon fill="#CB6A22" points="222.5,390 230,385 234,375 232.5,365 242.5,366 250,362.5 257.5,355 262.5,355 265,364 270,365 275,361 285,361 291,356 297.5,370 310,375 320,380 335,385 345,392.5 345,402.5 337.5,412.5 334,420 334,430 330,445 320,452.5 310,462.5 306,472.5 300,480 295,485 292.5,485 285,480 287.5,472.5 287.5,467.5 285,457.5 275,450 274,440 272.5,432.5 265,422.5 252.5,415 245,407.5 236,410 235,407.5 225,405 220,400"/>
<!-- Ecuador / Peru -->
<polygon fill="#D89A38" points="197.5,365 205,365 207.5,370 215,375 210,380 202.5,385 196,385 196,375"/>
<polygon fill="#D89A38" points="196,385 202.5,385 210,380 215,375 222.5,380 230,385 222.5,390 220,400 225,405 235,407.5 236,410 236,425 235,435 236,437.5 232.5,435 220,427.5 212.5,420 202.5,400 197.5,392"/>
<!-- Bolivia -->
<polygon fill="#EFD675" points="236,410 245,407.5 252.5,415 265,422.5 272.5,432.5 274,440 262.5,442.5 260,450 252.5,452.5 245,454 240,445 237.5,437.5 236,425"/>
<!-- Paraguay -->
<polygon fill="#D89A38" points="260,445 270,442.5 274,440 275,450 285,457.5 287.5,467.5 280,470 275,465 265,460 257.5,454"/>
<!-- Uruguay -->
<polygon fill="#E8B552" points="280,482.5 285,480 292.5,485 295,492.5 290,497.5 282.5,496 280,490"/>
<!-- Chile -->
<polygon fill="#D89A38" points="236,437.5 240,445 245,454 242.5,465 241,480 242.5,500 243.75,500 245,512.5 247.5,525 250,537.5 252.5,550 255,558.75 262.5,562.5 270,566 281,572 270,571 257.5,565 250,559 245,550 242.5,541 241,531 240,519 237.5,507.5 236,500 236,490 235.5,470 235,450"/>
<polygon fill="#3a3530" stroke="none" points="239.5,524 241.5,522 243.5,529 245.5,538 248,546 251.5,552.5 256.5,558 263,562 271,565 280,568.5 282.5,571.5 272,572 262,569.5 254.5,565.5 249,560 245,553 242,544 240.5,534"/>
<g fill="#555" stroke="none"><ellipse cx="357.5" cy="568.5" rx="2" ry="0.8"/><circle cx="5" cy="400" r="0.6"/><circle cx="9" cy="404" r="0.6"/><circle cx="3" cy="430" r="0.6"/><circle cx="8" cy="436" r="0.7"/><circle cx="14" cy="440" r="0.6"/><circle cx="20" cy="446" r="0.6"/><circle cx="30" cy="452" r="0.6"/></g>

<!-- Argentina -->
<polygon fill="#C44A17" points="245,454 252.5,452.5 260,450 265,460 275,465 280,470 287.5,467.5 285,475 280,482.5 280,490 282.5,496 285,500 286,506 281,512.5 272.5,514 272.5,520 267.5,522.5 268,527.5 267.5,532.5 265,537.5 267.5,542.5 270,545 267.5,550 266,555 265,560 262.5,562.5 255,558.75 252.5,550 250,537.5 247.5,525 245,512.5 243.75,500 242.5,500 241,480 242.5,465"/>
<polygon fill="#3a3a3a" points="288,557 296,557 299,560 292,561"/>
<!-- Galapagos -->
<g fill="#555" stroke="none"><circle cx="161" cy="369" r="0.9"/><circle cx="164" cy="371" r="1.1"/><circle cx="166" cy="373" r="0.8"/></g>
<!-- Caribbean small -->
<polyline fill="none" stroke="#444" stroke-width="1.1" stroke-dasharray="1.5,1.8" points="253.6,302 258,304 261.2,308.2 262.5,315.8 261.2,326"/>
<polyline fill="none" stroke="#444" stroke-width="1.1" stroke-dasharray="1.5,2.2" points="210.5,270.2 214,275 218,280 223,285 228,289 231,293"/>
<g fill="#444" stroke="none"><circle cx="379" cy="308" r="0.9"/><circle cx="383" cy="310" r="0.8"/><circle cx="381" cy="313.5" r="0.9"/><circle cx="384.5" cy="313" r="0.7"/>
<circle cx="404" cy="263" r="0.8"/><circle cx="408" cy="264" r="0.8"/><circle cx="412" cy="263.5" r="0.8"/><circle cx="416" cy="262.5" r="0.8"/>
<circle cx="378" cy="238" r="0.7"/><circle cx="383" cy="240" r="0.7"/></g>
</g>
<!-- logo -->
<g>
<ellipse cx="41.5" cy="29" rx="15.2" ry="10.6" fill="#c4e2a4" stroke="#3a6e3a" stroke-width="1"/>
<path d="M27.5 24 Q41 19 55.5 23.5 M26.5 30 Q41 26.5 56.5 29.5 M28.5 36.5 Q41 33.5 54.5 35.5 M35 19 Q32.5 29 35.5 39.5 M43.5 18.4 Q44.5 29 43 39.8 M50.5 20 Q53 29 50.5 38" fill="none" stroke="#35683a" stroke-width="1.1"/>
<path d="M27 32 Q28 37 33 40" fill="none" stroke="#fff" stroke-width="2.2" opacity="0.7"/>
<text x="35.5" y="52.5" font-family="Liberation Serif,serif" font-size="21" fill="#1f3566" letter-spacing="0.6">e<tspan fill="#86b94f">cd</tspan>c</text>
<path d="M62.5 40 Q61.5 35 65.5 33.5" fill="none" stroke="#86b94f" stroke-width="1.3"/>
<rect x="36" y="56.5" width="9.8" height="6.5" fill="#2a4a9a"/>
<g fill="#8a96b8"><rect x="47.5" y="57" width="29" height="1"/><rect x="47.5" y="59.3" width="27" height="1"/><rect x="47.5" y="61.6" width="15" height="1"/></g>
</g>
</svg>
</body></html>
